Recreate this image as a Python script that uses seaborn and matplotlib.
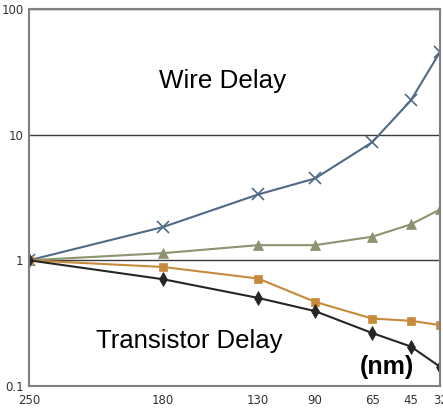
import numpy as np
import pandas as pd
import matplotlib
matplotlib.use("Agg")
import matplotlib.pyplot as plt
import seaborn as sns

# %% data (relative delay vs. process node)
nodes = [250, 180, 130, 90, 65, 45, 32]
wire_global = [1.0, 1.84, 3.34, 4.48, 8.69, 18.7, 45.6]
wire_local = [1.0, 1.14, 1.32, 1.32, 1.54, 1.93, 2.54]
gate_fo4 = [1.0, 0.885, 0.716, 0.467, 0.344, 0.33, 0.305]
gate_delay = [1.0, 0.707, 0.502, 0.394, 0.264, 0.206, 0.142]

# uneven spacing of the node axis as it is laid out in the chart
node_spacing = [0, 134, 229, 286, 343, 381.7, 411]

y_ticks = [0.1, 1, 10, 100]
y_labels = ["0.1", "1", "10", "100"]

sns.set_style("white")
plt.rcParams['font.family'] = ['Liberation Sans', 'DejaVu Sans']

fig = plt.figure(figsize=(4.43, 4.08), dpi=100)
ax = fig.add_axes([0.0655, 0.054, 0.928, 0.924])

xp = np.array(nodes[::-1], dtype=float)
fp = np.array(node_spacing[::-1], dtype=float)


def fwd(x):
    return np.interp(x, xp, fp)


def inv(p):
    return np.interp(p, fp[::-1], xp[::-1])


ax.set_xscale("function", functions=(fwd, inv))
ax.set_yscale("log")

series = [
    (wire_global, "#4f6986", "x", 8, 1.2),
    (wire_local, "#8b9370", "^", 7, 0.5),
    (gate_fo4, "#c78a3c", "s", 6, 0.5),
    (gate_delay, "#262626", "d", 7, 0.5),
]
for vals, col, mk, ms, mew in series:
    df = pd.DataFrame({"node": nodes, "delay": vals})
    sns.lineplot(data=df, x="node", y="delay", color=col, marker=mk,
                 markersize=ms, markeredgewidth=mew,
                 markeredgecolor=col, linewidth=1.5, ax=ax, sort=False)

ax.set_xlim(32, 250)
ax.set_ylim(0.1, 100)
ax.set_xticks(nodes)
ax.set_xticklabels([str(n) for n in nodes])
ax.set_yticks(y_ticks)
ax.set_yticklabels(y_labels)
ax.yaxis.set_minor_formatter(matplotlib.ticker.NullFormatter())
ax.xaxis.set_minor_locator(matplotlib.ticker.NullLocator())
ax.tick_params(which="both", length=0)
ax.tick_params(axis="y", pad=4)
ax.tick_params(axis="x", pad=6)
for lab in ax.get_xticklabels() + ax.get_yticklabels():
    lab.set_family(['Liberation Sans Narrow', 'DejaVu Sans'])
    lab.set_fontsize(8.5)
    lab.set_color("#333333")
ax.set_xlabel("")
ax.set_ylabel("")

ax.yaxis.grid(True, which="major", color="#3a3a3a", linewidth=1.0)
ax.xaxis.grid(False)
for sp in ax.spines.values():
    sp.set_visible(True)
    sp.set_color("#808080")
    sp.set_linewidth(1.5)

ax.text(0.47, 0.81, "Wire Delay", transform=ax.transAxes, fontsize=18.7,
        ha="center", va="center", color="black")
ax.text(0.39, 0.12, "Transistor Delay", transform=ax.transAxes, fontsize=18.5,
        ha="center", va="center", color="black")
ax.text(0.87, 0.05, "(nm)", transform=ax.transAxes, fontsize=18,
        fontweight="bold", ha="center", va="center", color="black")

fig.savefig("out.png", dpi=100)
